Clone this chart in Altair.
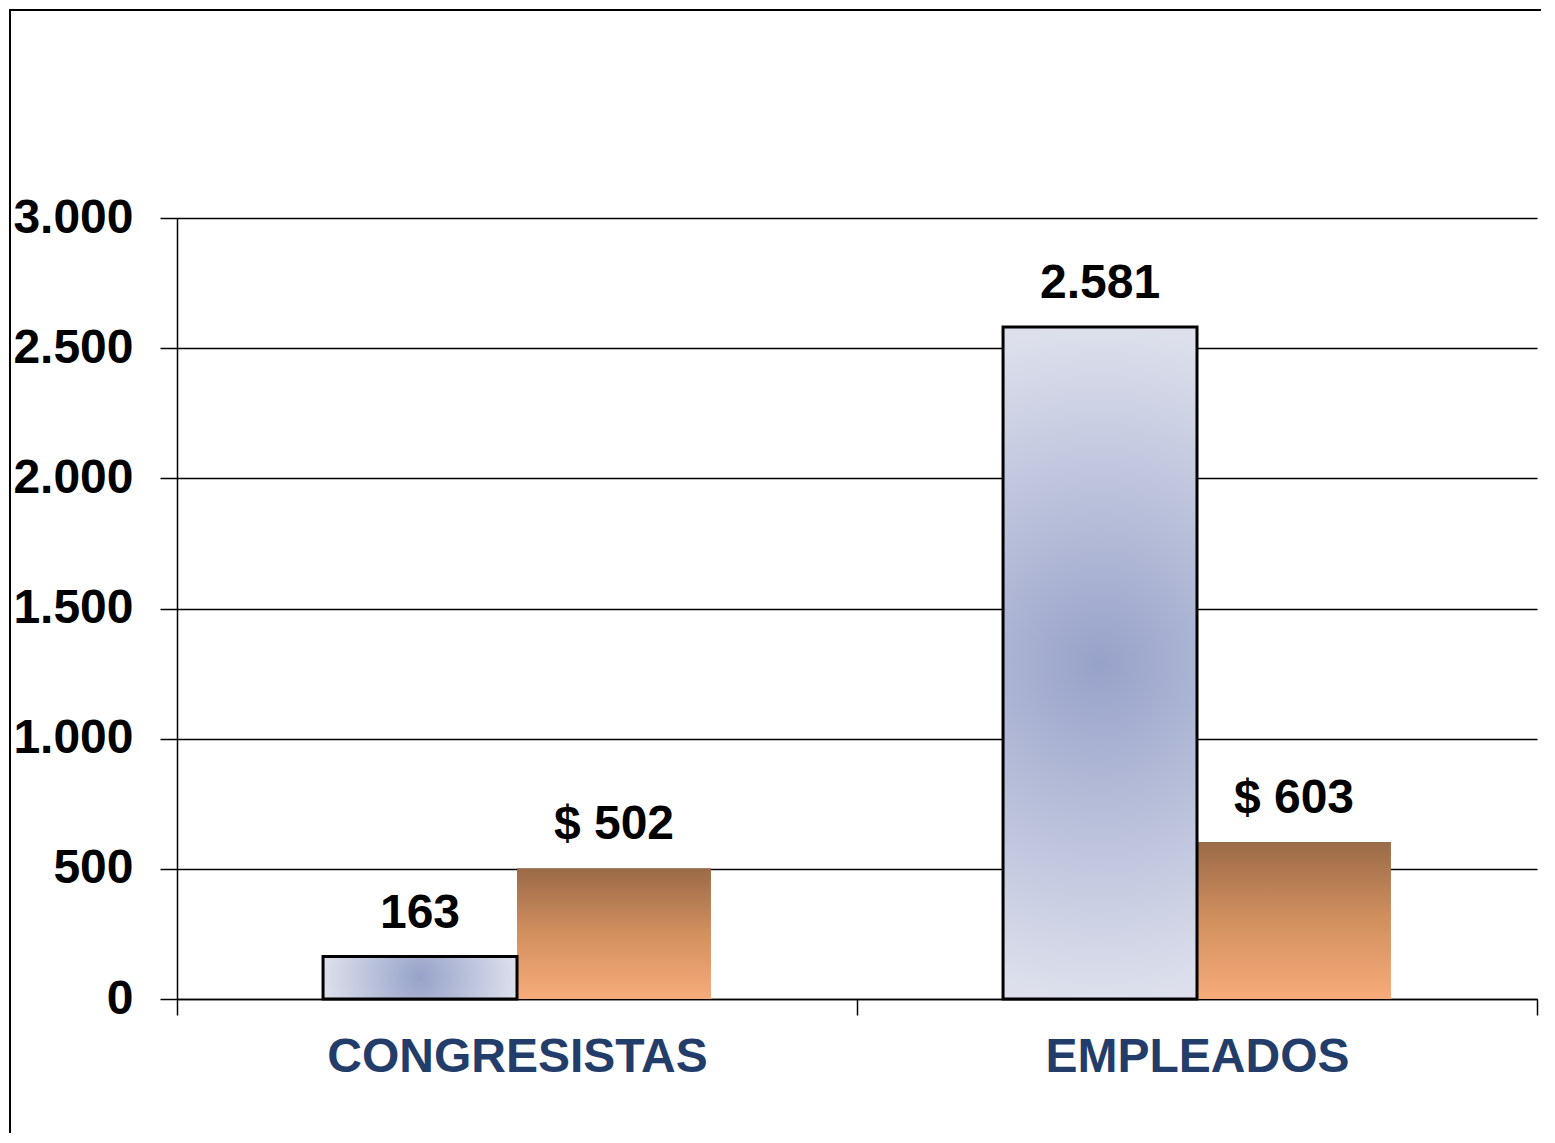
import altair as alt
import pandas as pd

categories = ["CONGRESISTAS", "EMPLEADOS"]
series = ["Cantidad", "Costo"]
cantidad = [163, 2581]
costo = [502, 603]
y_ticks = [0, 500, 1000, 1500, 2000, 2500, 3000]


def fmt(v):
    return f"{v:,}".replace(",", ".")


rows = []
for c, a, b in zip(categories, cantidad, costo):
    rows.append({"cat": c, "serie": series[0], "valor": a, "label": fmt(a)})
    rows.append({"cat": c, "serie": series[1], "valor": b, "label": "$ " + fmt(b)})
df = pd.DataFrame(rows)

FONT = "Liberation Sans"

blue_grad = alt.RadialGradient(
    gradient="radial",
    stops=[alt.GradientStop(color="#97a2c9", offset=0),
           alt.GradientStop(color="#dde0ec", offset=1)],
    x1=0.5, y1=0.5, r1=0, x2=0.5, y2=0.5, r2=0.5,
)
orange_grad = alt.LinearGradient(
    gradient="linear",
    stops=[alt.GradientStop(color="#9a6a48", offset=0),
           alt.GradientStop(color="#d2905f", offset=0.5),
           alt.GradientStop(color="#f7ab7a", offset=1)],
    x1=0, y1=0, x2=0, y2=1,
)

x_enc = alt.X(
    "cat:N", sort=categories,
    scale=alt.Scale(paddingInner=0, paddingOuter=0),
    axis=alt.Axis(
        title=None, labelAngle=0, tickBand="extent", grid=False,
        labelFont=FONT, labelFontWeight="bold", labelFontSize=48,
        labelColor="#233d6b", labelPadding=18, labelLimit=0,
        tickSize=16, tickColor="black", tickWidth=1.5,
        domainColor="black", domainWidth=1.5,
    ),
)
xo_enc = alt.XOffset(
    "serie:N", sort=series,
    scale=alt.Scale(domain=series, paddingInner=0, paddingOuter=0.753),
)
y_enc = alt.Y(
    "valor:Q",
    scale=alt.Scale(domain=[0, 3000], nice=False),
    axis=alt.Axis(
        title=None, values=y_ticks,
        labelExpr="replace(format(datum.value, ','), ',', '.')",
        labelFont=FONT, labelFontWeight="bold", labelFontSize=48,
        labelColor="black", labelPadding=27,
        tickSize=17, tickColor="black", tickWidth=1.5,
        grid=True, gridColor="black", gridWidth=1.5, gridOpacity=1,
        domainColor="black", domainWidth=1.5,
    ),
)

base = alt.Chart(df).encode(x=x_enc, xOffset=xo_enc, y=y_enc)

orange = base.transform_filter(alt.datum.serie == series[1]).mark_bar(
    fill=orange_grad, strokeWidth=0
)
blue = base.transform_filter(alt.datum.serie == series[0]).mark_bar(
    fill=blue_grad, stroke="black", strokeWidth=3
)
labels = base.mark_text(
    font=FONT, fontWeight="bold", fontSize=48, color="black",
    baseline="alphabetic", dy=-29,
).encode(text="label:N")

frame = alt.Chart(alt.Data(values=[{}])).mark_rect(
    filled=False, stroke="black", strokeWidth=2
).encode(
    x=alt.value(-167), x2=alt.value(3000),
    y=alt.value(-208), y2=alt.value(3000),
)

chart = alt.layer(orange, blue, labels, frame).properties(
    width=1360, height=781,
    background="white",
    autosize=alt.AutoSizeParams(type="none"),
    padding={"left": 169, "top": 210, "right": 4, "bottom": 134},
).configure_view(strokeWidth=0, stroke="transparent")

chart.save("out.html", embed_options={"renderer": "svg", "actions": False})
